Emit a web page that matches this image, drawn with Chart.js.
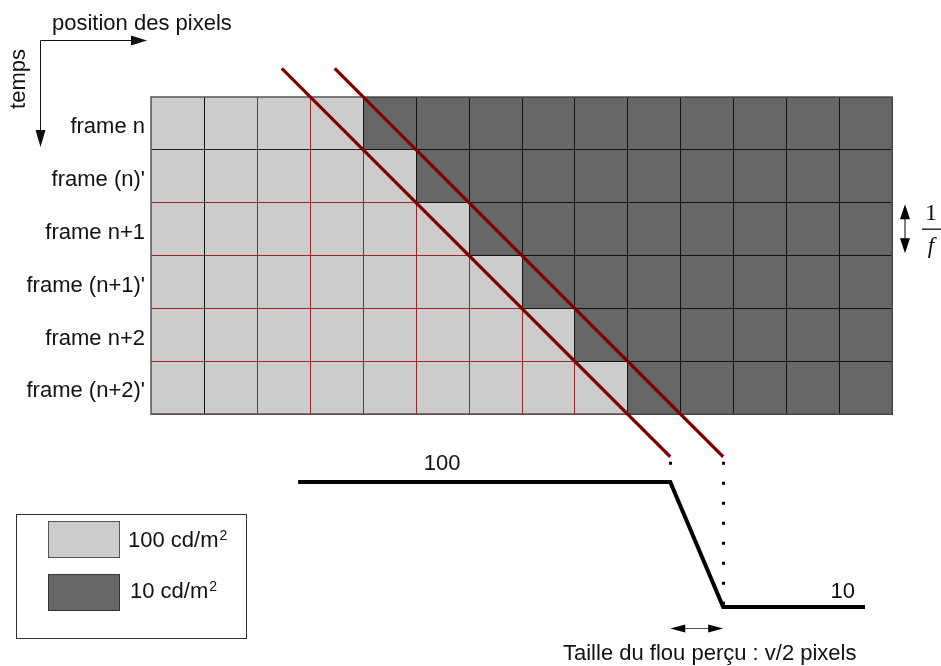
<!DOCTYPE html>
<html>
<head>
<meta charset="utf-8">
<script src="https://cdn.jsdelivr.net/npm/chart.js@4/dist/chart.umd.min.js"></script>
<style>
  html, body { margin: 0; padding: 0; background: #ffffff; }
  canvas { display: block; }
</style>
</head>
<body>
<canvas id="chart" width="941" height="666"></canvas>
<script>
// ---------------- data ----------------
const rowLabels = ["frame n", "frame (n)'", "frame n+1", "frame (n+1)'", "frame n+2", "frame (n+2)'"];
const columnCount = 14;
const darkStartColumn = [4, 5, 6, 7, 8, 9];          // first dark pixel in each frame row
const luminanceLevels = [100, 10];                    // cd/m2 : light, dark
const levelColors = ['#cccccc', '#666666'];
const legendLabels = ['100 cd/m', '10 cd/m'];
const legendSuperscripts = ['2', '2'];
const motionLineRows = [-0.53, 6.81];                 // vertical extent of the eye-tracking lines (rows)
const profileX = [2.78, 9.81, 10.81, 13.49];          // perceived luminance profile (columns)
const profileLuminance = [100, 100, 10, 10];
const axisTitles = ['position des pixels', 'temps'];
const blurCaption = 'Taille du flou perçu : v/2 pixels';

// eye-tracking lines pass through the corners (darkStart, row+1); second one is shifted by one pixel
const lineOffset = darkStartColumn[0] - 1;
const motionLines = [0, 1].map(k => motionLineRows.map(r => ({ x: r + lineOffset + k, y: r })));
const profilePoints = profileX.map((x, i) => ({ x, y: profileLuminance[i] }));

const FONT = '"Liberation Sans", Arial, Helvetica, sans-serif';
const SERIF = '"Liberation Serif", "DejaVu Serif", serif';

function arrowHead(ctx, tx, ty, dx, dy, len, half) {
  const bx = tx - dx * len, by = ty - dy * len;
  ctx.beginPath();
  ctx.moveTo(tx, ty);
  ctx.lineTo(bx - dy * half, by + dx * half);
  ctx.lineTo(bx + dy * half, by - dx * half);
  ctx.closePath();
  ctx.fill();
}

const diagramPlugin = {
  id: 'diagram',
  beforeDatasetsDraw(chart) {
    const { ctx, scales: { x, y } } = chart;
    const px = v => Math.round(x.getPixelForValue(v));
    const py = v => Math.round(y.getPixelForValue(v));
    ctx.save();
    // cells
    darkStartColumn.forEach((ds, r) => {
      for (let c = 0; c < columnCount; c++) {
        ctx.fillStyle = c < ds ? levelColors[0] : levelColors[1];
        ctx.fillRect(px(c), py(r), px(c + 1) - px(c), py(r + 1) - py(r));
      }
    });
    // light-region grid (red, except first column line and first row line)
    ctx.lineWidth = 1;
    darkStartColumn.forEach((ds, r) => {
      for (let c = 0; c < ds; c++) {
        ctx.strokeStyle = (c + 1 === 1) ? '#111111' : '#a02424';
        ctx.beginPath();
        ctx.moveTo(px(c + 1) + 0.5, py(r));
        ctx.lineTo(px(c + 1) + 0.5, py(r + 1));
        ctx.stroke();
        ctx.strokeStyle = (r + 1 === 1) ? '#222222' : '#a02424';
        ctx.beginPath();
        ctx.moveTo(px(c), py(r + 1) + 0.5);
        ctx.lineTo(px(c + 1), py(r + 1) + 0.5);
        ctx.stroke();
      }
    });
    // dark cells borders
    ctx.strokeStyle = '#111111';
    darkStartColumn.forEach((ds, r) => {
      for (let c = ds; c < columnCount; c++) {
        ctx.strokeRect(px(c) + 0.5, py(r) + 0.5, px(c + 1) - px(c), py(r + 1) - py(r));
      }
    });
    // outer border
    ctx.strokeStyle = '#555555';
    ctx.lineWidth = 1.5;
    ctx.strokeRect(px(0), py(0), px(columnCount) - px(0), py(rowLabels.length) - py(0));
    ctx.restore();
  },
  afterDatasetsDraw(chart) {
    const { ctx, scales: { x, y, yLum } } = chart;
    const px = v => x.getPixelForValue(v);
    const py = v => y.getPixelForValue(v);
    ctx.save();

    // dotted projections from the end of each eye-tracking line to the profile
    ctx.strokeStyle = '#000000';
    ctx.lineWidth = 3;
    ctx.setLineDash([3, 17]);
    motionLines.forEach((ln, k) => {
      const end = ln[ln.length - 1];
      const xx = Math.round(px(end.x)) + 0.5;
      ctx.beginPath();
      ctx.moveTo(xx, py(end.y) + 5);
      ctx.lineTo(xx, yLum.getPixelForValue(luminanceLevels[k]) - 2);
      ctx.stroke();
    });
    ctx.setLineDash([]);

    // row labels
    ctx.fillStyle = '#111111';
    ctx.font = '22px ' + FONT;
    ctx.textAlign = 'right';
    ctx.textBaseline = 'alphabetic';
    rowLabels.forEach((lab, r) => {
      ctx.fillText(lab, px(0) - 6, py(r + 0.5) + 10);
    });

    // axis titles and arrows (top-left)
    ctx.textAlign = 'left';
    ctx.fillText(axisTitles[0], 52, 30);
    ctx.save();
    ctx.translate(25, 79);
    ctx.rotate(-Math.PI / 2);
    ctx.textAlign = 'center';
    ctx.fillText(axisTitles[1], 0, 0);
    ctx.restore();

    ctx.strokeStyle = '#111111';
    ctx.fillStyle = '#111111';
    ctx.lineWidth = 1;
    ctx.beginPath();
    ctx.moveTo(40.5, 146);
    ctx.lineTo(40.5, 40.5);
    ctx.lineTo(134, 40.5);
    ctx.stroke();
    arrowHead(ctx, 147, 40.5, 1, 0, 16, 5);
    arrowHead(ctx, 40.5, 147, 0, 1, 17, 5);

    // luminance labels
    ctx.font = '22px ' + FONT;
    ctx.textAlign = 'center';
    ctx.fillText(String(luminanceLevels[0]), px(5.5), yLum.getPixelForValue(luminanceLevels[0]) - 12);
    ctx.textAlign = 'right';
    ctx.fillText(String(luminanceLevels[1]), px(profileX[3]) - 10, yLum.getPixelForValue(luminanceLevels[1]) - 9);

    // blur width double arrow
    const ay = 628.5;
    const ax0 = px(profileX[1]), ax1 = px(profileX[2]);
    ctx.strokeStyle = '#555555';
    ctx.beginPath();
    ctx.moveTo(ax0 + 8, ay);
    ctx.lineTo(ax1 - 8, ay);
    ctx.stroke();
    ctx.fillStyle = '#000000';
    arrowHead(ctx, ax0, ay, -1, 0, 15, 4);
    arrowHead(ctx, ax1, ay, 1, 0, 15, 4);
    ctx.fillStyle = '#111111';
    ctx.textAlign = 'left';
    ctx.fillText(blurCaption, 563, 660);

    // 1/f indicator beside the grid (one sub-frame row)
    const fx = 905;
    const fy0 = py(2) + 2, fy1 = py(3) - 2;
    ctx.strokeStyle = '#555555';
    ctx.lineWidth = 1.5;
    ctx.beginPath();
    ctx.moveTo(fx, fy0 + 10);
    ctx.lineTo(fx, fy1 - 10);
    ctx.stroke();
    ctx.fillStyle = '#000000';
    arrowHead(ctx, fx, fy0, 0, -1, 15, 5);
    arrowHead(ctx, fx, fy1, 0, 1, 15, 5);
    ctx.fillStyle = '#111111';
    ctx.font = '24px ' + SERIF;
    ctx.textAlign = 'center';
    ctx.fillText('1', 931, 220);
    ctx.fillRect(922, 228.5, 19, 1.3);
    ctx.font = 'italic 23px ' + SERIF;
    ctx.fillText('f', 931, 253);

    // legend
    ctx.strokeStyle = '#333333';
    ctx.lineWidth = 1;
    ctx.strokeRect(16.5, 514.5, 230, 124);
    const swY = [521, 574];
    const txtY = [547, 598];
    const txtX = [128, 130];
    levelColors.forEach((col, i) => {
      ctx.fillStyle = col;
      ctx.fillRect(48, swY[i], 71, 36);
      ctx.strokeStyle = i === 0 ? '#555555' : '#333333';
      ctx.strokeRect(48.5, swY[i] + 0.5, 71, 36);
      ctx.fillStyle = '#111111';
      ctx.font = '22px ' + FONT;
      ctx.textAlign = 'left';
      ctx.fillText(legendLabels[i], txtX[i], txtY[i]);
      const w = ctx.measureText(legendLabels[i]).width;
      ctx.font = '14px ' + FONT;
      ctx.fillText(legendSuperscripts[i], txtX[i] + w + 1, txtY[i] - 7);
    });

    ctx.restore();
  }
};

const X0 = 151, XU = 52.93, Y0 = 96.5, YU = 52.9;
const W = 941, H = 666;

new Chart(document.getElementById('chart'), {
  type: 'scatter',
  data: {
    datasets: [
      {
        label: 'eye line 1', data: motionLines[0], showLine: true,
        borderColor: '#800000', borderWidth: 3.2, pointRadius: 0, xAxisID: 'x', yAxisID: 'y'
      },
      {
        label: 'eye line 2', data: motionLines[1], showLine: true,
        borderColor: '#800000', borderWidth: 3.2, pointRadius: 0, xAxisID: 'x', yAxisID: 'y'
      },
      {
        label: 'perceived luminance', data: profilePoints, showLine: true,
        borderColor: '#000000', borderWidth: 4, pointRadius: 0, borderJoinStyle: 'miter',
        xAxisID: 'x', yAxisID: 'yLum'
      }
    ]
  },
  options: {
    responsive: false,
    devicePixelRatio: 1,
    animation: false,
    events: [],
    layout: { padding: 0 },
    plugins: { legend: { display: false }, tooltip: { enabled: false } },
    scales: {
      x: { type: 'linear', display: false, bounds: 'data', min: -X0 / XU, max: (W - X0) / XU },
      y: { type: 'linear', display: false, bounds: 'data', reverse: true, min: -Y0 / YU, max: (H - Y0) / YU },
      yLum: {
        type: 'linear', display: false, bounds: 'data',
        min: luminanceLevels[1] - (H - 607) / (125 / 90),
        max: luminanceLevels[0] + 482 / (125 / 90)
      }
    }
  },
  plugins: [diagramPlugin]
});
</script>
</body>
</html>
